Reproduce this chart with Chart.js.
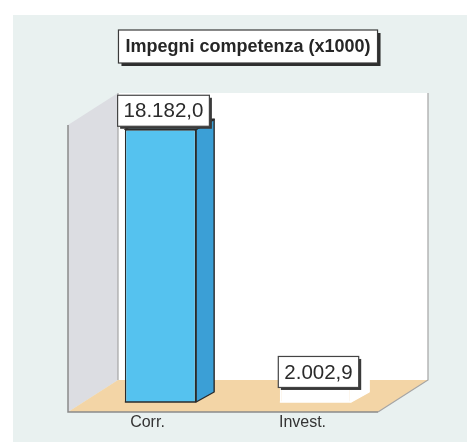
<!DOCTYPE html>
<html><head><meta charset="utf-8">
<script src="https://cdn.jsdelivr.net/npm/chart.js@4.4.0/dist/chart.umd.min.js"></script>
<style>html,body{margin:0;padding:0;background:#fff;}canvas{display:block;}</style>
</head><body>
<canvas id="c" width="467" height="445"></canvas>
<script>
const categories = ['Corr.', 'Invest.'];
const values = [18182.0, 2002.9];
const chartTitle = 'Impegni competenza (x1000)';
const barColors = ['#55c2ef', '#ffffff'];
const barBorders = ['#2b2b2b', '#ffffff'];
const sideColors = ['#3b9fd6', '#ffffff'];
const topColors = ['#8bd5f4', '#ffffff'];

function fmtIt(v){
  const parts = v.toFixed(1).split('.');
  return parts[0].replace(/\B(?=(\d{3})+(?!\d))/g, '.') + ',' + parts[1];
}
const FONT = '"Liberation Sans", Arial, sans-serif';

const scenePlugin = {
  id: 'scene',
  beforeDraw(chart) {
    const {ctx, chartArea: ca} = chart;
    ctx.save();
    ctx.fillStyle = '#ffffff'; ctx.fillRect(0, 0, chart.width, chart.height);
    ctx.fillStyle = '#e9f1f0'; ctx.fillRect(13, 15, chart.width - 13, chart.height - 18);
    const fl = ca.left - 15, fr = ca.right - 15, fb = ca.bottom + 10, ft = ca.top + 23;
    const dx = 50, dy = -32;
    ctx.fillStyle = '#ffffff';
    ctx.fillRect(fl + dx, ft + dy, fr - fl, fb - ft);
    ctx.beginPath();
    ctx.moveTo(fl, ft); ctx.lineTo(fl + dx, ft + dy); ctx.lineTo(fl + dx, fb + dy); ctx.lineTo(fl, fb); ctx.closePath();
    ctx.fillStyle = '#dcdde2'; ctx.fill();
    ctx.beginPath();
    ctx.moveTo(fl, fb); ctx.lineTo(fr, fb); ctx.lineTo(fr + dx, fb + dy); ctx.lineTo(fl + dx, fb + dy); ctx.closePath();
    ctx.fillStyle = '#f3d5a6'; ctx.fill();
    ctx.strokeStyle = '#8a8a8a'; ctx.lineWidth = 1.5;
    ctx.beginPath(); ctx.moveTo(fl, ft); ctx.lineTo(fl, fb); ctx.lineTo(fr, fb); ctx.stroke();
    ctx.strokeStyle = '#a5a5a5'; ctx.lineWidth = 1.2;
    ctx.beginPath(); ctx.moveTo(fl + dx, ft + dy); ctx.lineTo(fl + dx, fb + dy); ctx.stroke();
    ctx.beginPath(); ctx.moveTo(fr + dx, ft + dy); ctx.lineTo(fr + dx, fb + dy); ctx.lineTo(fr, fb); ctx.stroke();
    ctx.restore();
  },
  afterDatasetsDraw(chart) {
    const ctx = chart.ctx;
    const meta = chart.getDatasetMeta(0);
    const bdx = 18, bdy = -10;
    ctx.save();
    meta.data.forEach((el, i) => {
      const p = el.getProps(['x', 'y', 'base', 'width'], true);
      const l = p.x - p.width / 2, r = p.x + p.width / 2;
      ctx.lineWidth = 1.4;
      ctx.strokeStyle = barBorders[i];
      ctx.lineJoin = 'round';
      ctx.beginPath();
      ctx.moveTo(r, p.y); ctx.lineTo(r + bdx, p.y + bdy); ctx.lineTo(r + bdx, p.base + bdy); ctx.lineTo(r, p.base); ctx.closePath();
      ctx.fillStyle = sideColors[i]; ctx.fill(); ctx.stroke();
      ctx.beginPath();
      ctx.moveTo(l, p.y); ctx.lineTo(l + bdx, p.y + bdy); ctx.lineTo(r + bdx, p.y + bdy); ctx.lineTo(r, p.y); ctx.closePath();
      ctx.fillStyle = topColors[i]; ctx.fill(); ctx.stroke();
      ctx.beginPath(); ctx.moveTo(l, p.base); ctx.lineTo(r, p.base); ctx.stroke();
    });
    ctx.restore();
  },
  afterDraw(chart) {
    const ctx = chart.ctx;
    const ca = chart.chartArea;
    ctx.save();
    ctx.font = 'bold 18px ' + FONT;
    const tw = ctx.measureText(chartTitle).width;
    const tcx = (ca.left + ca.right) / 2 + 10, ttop = 30, th = 33, tbw = tw + 14;
    ctx.fillStyle = '#2e2e2e';
    ctx.fillRect(tcx - tbw / 2 + 3, ttop + 3, tbw, th);
    ctx.fillStyle = '#ffffff';
    ctx.fillRect(tcx - tbw / 2, ttop, tbw, th);
    ctx.strokeStyle = '#3a3a3a'; ctx.lineWidth = 1.2;
    ctx.strokeRect(tcx - tbw / 2, ttop, tbw, th);
    ctx.fillStyle = '#262626'; ctx.textAlign = 'center'; ctx.textBaseline = 'middle';
    ctx.fillText(chartTitle, tcx, ttop + th / 2 + 1);
    const meta = chart.getDatasetMeta(0);
    ctx.font = '20.5px ' + FONT;
    meta.data.forEach((el, i) => {
      const p = el.getProps(['x', 'y', 'base'], true);
      const txt = fmtIt(values[i]);
      const w = ctx.measureText(txt).width + 12, h = 31;
      const cx = p.x + 3;
      let top = (p.base - p.y) > 60 ? p.y - 3 - h : p.y - h / 2;
      ctx.fillStyle = '#3a3a3a';
      ctx.fillRect(cx - w / 2 + 2.5, top + 2.5, w, h);
      ctx.fillStyle = '#ffffff';
      ctx.fillRect(cx - w / 2, top, w, h);
      ctx.strokeStyle = '#444'; ctx.lineWidth = 1.2;
      ctx.strokeRect(cx - w / 2, top, w, h);
      ctx.fillStyle = '#2a2a2a';
      ctx.fillText(txt, cx, top + h / 2 + 1);
    });
    ctx.restore();
  }
};

new Chart(document.getElementById('c'), {
  type: 'bar',
  data: {
    labels: categories,
    datasets: [{
      data: values,
      backgroundColor: barColors,
      borderColor: barBorders,
      borderWidth: 1.4,
      borderSkipped: 'bottom',
      barPercentage: 0.46,
      categoryPercentage: 1
    }]
  },
  options: {
    responsive: false,
    animation: false,
    layout: { padding: { left: 83, right: 74, top: 102, bottom: 1 } },
    plugins: { legend: { display: false }, tooltip: { enabled: false }, title: { display: false } },
    scales: {
      x: {
        offset: true,
        grid: { display: false, drawTicks: false },
        border: { display: false },
        ticks: { color: '#333', font: { size: 16, family: FONT, lineHeight: 1 }, padding: 13, labelOffset: -13 }
      },
      y: { display: false, min: 0, max: 20000 }
    }
  },
  plugins: [scenePlugin]
});
</script>
</body></html>
